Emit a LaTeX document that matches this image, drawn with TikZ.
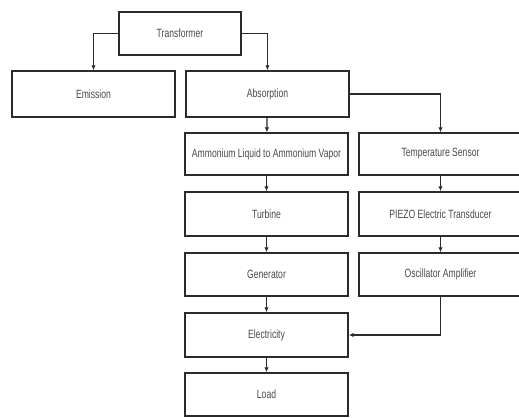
\documentclass[tikz,border=0pt]{standalone}
\usepackage{fontspec}
\setmainfont{Liberation Sans}[FakeStretch=0.72]
\usepackage{tikz}
\usetikzlibrary{arrows.meta, positioning, calc}
\usepackage{xcolor}
\definecolor{boxline}{HTML}{2B2B2B}
\definecolor{boxtext}{HTML}{4A4A4A}

\begin{document}
\begin{tikzpicture}[x=1bp, y=-1bp,
    stagebox/.style={draw=boxline, line width=1.5pt, fill=white,
      minimum width=163bp, minimum height=44bp, inner sep=0pt,
      text=boxtext, font=\fontsize{12}{14}\selectfont},
    flow/.style={-{Latex[length=5pt, width=4.5pt]}, draw=boxline, line width=1.3pt}]
      \clip (0,0) rectangle (519,417);
      \useasboundingbox (0,0) rectangle (519,417);
      % top
      \node[stagebox, minimum width=122bp, minimum height=43bp] (trans) at (180,33.5) {Transformer};
      \node[stagebox, minimum height=46bp] (emis) at (93.5,94) {Emission};
      \node[stagebox, minimum height=46bp] (absorp) at (267.5,94) {Absorption};
      % left column
      \node[stagebox, minimum height=42bp] (ammon) at (266.5,154) {Ammonium Liquid to Ammonium Vapor};
      \node[stagebox] (turb) at (266.5,214) {Turbine};
      \node[stagebox, minimum height=43bp] (gen) at (266.5,274.5) {Generator};
      \node[stagebox] (elec) at (266.5,335) {Electricity};
      \node[stagebox, minimum height=43bp] (load) at (266.5,394.5) {Load};
      % right column
      \node[stagebox, minimum height=42bp] (temp) at (440.5,154) {Temperature Sensor};
      \node[stagebox] (piezo) at (440.5,214) {PIEZO Electric Transducer};
      \node[stagebox, minimum height=43bp] (osc) at (440.5,274.5) {Oscillator Amplifier};
      % connectors
      \draw[flow] (trans.west) -| (emis.north);
      \draw[flow] (trans.east) -| (absorp.north);
      \draw[flow] (absorp.east) -| (temp.north);
      \draw[flow] (absorp) -- (ammon);
      \draw[flow] (ammon) -- (turb);
      \draw[flow] (turb) -- (gen);
      \draw[flow] (gen) -- (elec);
      \draw[flow] (elec) -- (load);
      \draw[flow] (temp) -- (piezo);
      \draw[flow] (piezo) -- (osc);
      \draw[flow] (osc.south) |- (elec.east);
    \end{tikzpicture}
\end{document}
